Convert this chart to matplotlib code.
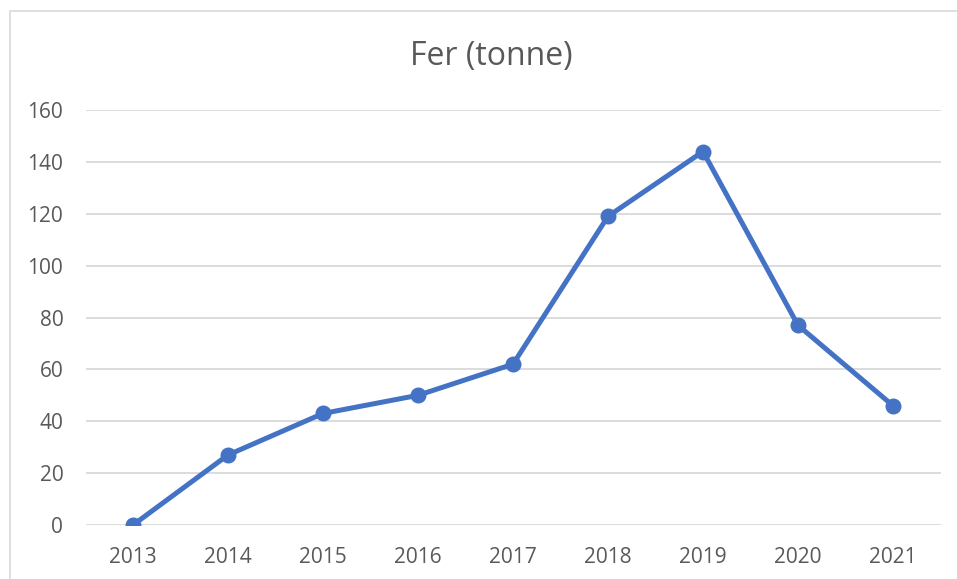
import matplotlib.pyplot as plt
from matplotlib.patches import Rectangle

years = ['2013', '2014', '2015', '2016', '2017', '2018', '2019', '2020', '2021']
fer = [0, 27, 43, 50, 62, 119, 144, 77, 46]

plt.rcParams['font.family'] = ['Open Sans', 'DejaVu Sans']

fig = plt.figure(figsize=(9.57, 5.79), dpi=100)
ax = fig.add_axes([85.5 / 957, 54 / 579, 855 / 957, 415 / 579])

x = list(range(len(years)))
ax.plot(x, fer, color='#4472C4', linewidth=3.6, marker='o', markersize=10.5,
        solid_capstyle='round', zorder=3)

ax.set_xlim(-0.5, len(years) - 0.5)
ax.set_ylim(0, 160)
ax.set_yticks(range(0, 161, 20))
ax.set_xticks(x)
ax.set_xticklabels(years)
ax.grid(axis='y', color='#D9D9D9', linewidth=1.3)
ax.set_axisbelow(True)
for s in ax.spines.values():
    s.set_visible(False)
ax.tick_params(length=0, labelsize=15, labelcolor='#595959', pad=16)
ax.tick_params(axis='y', pad=16)

fig.text(491 / 957, 1 - 57 / 579, 'Fer (tonne)', ha='center', va='center',
         fontsize=23, color='#595959')

top = 1 - 11 / 579
fig.patches.append(Rectangle((10 / 957, -0.1), 2, top + 0.1,
                             transform=fig.transFigure, fill=False,
                             edgecolor='#D9D9D9', linewidth=1.2))

fig.savefig('out.png', dpi=100)
